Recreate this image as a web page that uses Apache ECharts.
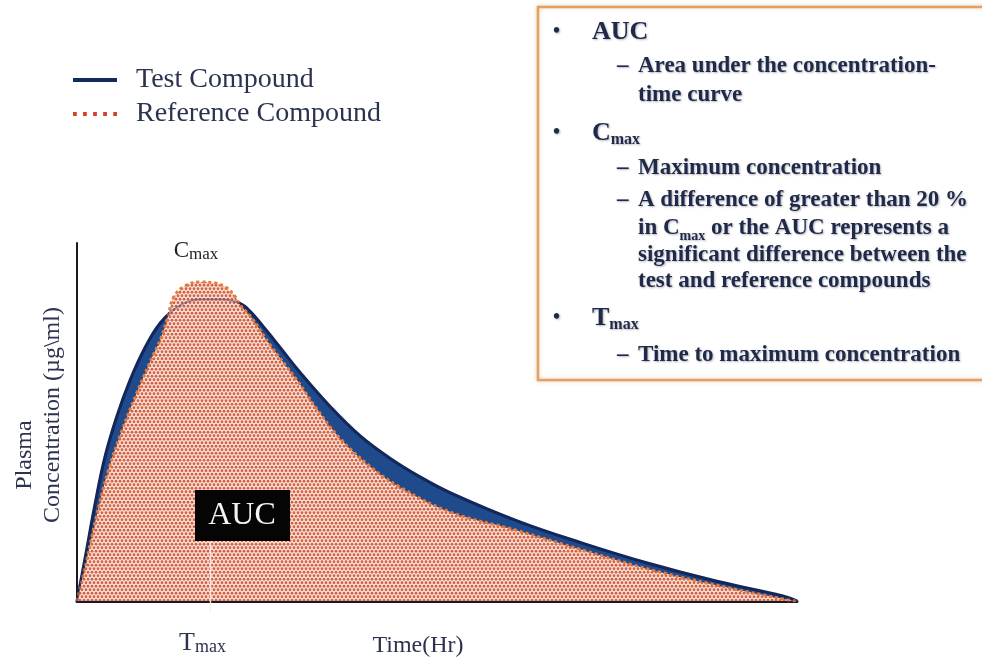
<!DOCTYPE html>
<html><head><meta charset="utf-8">
<script src="https://cdn.jsdelivr.net/npm/echarts@6/dist/echarts.min.js"></script>
<style>html,body{margin:0;padding:0;background:#fff}#c{width:982px;height:663px}</style>
</head><body><div id="c"></div>
<script>
// ---- data (hours, concentration in % of axis) ----
const seriesNames = ['Test Compound', 'Reference Compound'];
const testHours = [0, 0.27, 0.6, 0.93, 1.33, 1.77, 2.27, 2.77, 3.37, 4.1, 4.83, 5.43, 5.77, 6.33, 6.77, 7.43, 8.43, 9.43, 10.43, 11.43, 12.43, 14.67, 16.87, 19.1, 21.33, 23.53, 24];
const testConc  = [0, 12.0, 27.0, 40.2, 51.6, 61.7, 70.8, 77.6, 82.2, 84.2, 84.2, 83.1, 80.9, 75.4, 70.8, 63.9, 54.4, 46.2, 39.9, 34.7, 30.3, 22.4, 16.1, 10.4, 5.5, 1.4, 0];
const refHours  = [0, 0.3, 0.63, 1.03, 1.47, 1.97, 2.43, 2.8, 3.03, 3.23, 3.6, 4.1, 4.6, 5.0, 5.27, 5.43, 5.83, 6.43, 7.33, 8.0, 8.77, 9.77, 10.77, 12.43, 14.67, 16.87, 19.1, 21.33, 23.53, 24];
const refConc   = [0, 10.7, 23.0, 36.1, 47.0, 57.7, 66.7, 73.5, 79.5, 85.0, 88.0, 89.1, 88.8, 87.4, 85.0, 82.8, 79.0, 71.6, 61.7, 53.6, 45.4, 37.6, 31.8, 24.9, 19.7, 14.2, 8.8, 4.4, 0.6, 0];
const cmaxPoint = [4.1, 89.1];
const tmaxHour = 4.45;
const aucLabelPos = [5.5, 24];
const xRange = [0, 24];
const yRange = [0, 100];

const SERIF = '"Liberation Serif", "Times New Roman", serif';
const BOXTXT = '#1f2a4a';

function zip(a, b) { return a.map((v, i) => [v, b[i]]); }

function makePattern() {
  const c = document.createElement('canvas');
  c.width = 8; c.height = 7;
  const g = c.getContext('2d');
  g.fillStyle = '#fce6d8'; g.fillRect(0, 0, 8, 7);
  g.fillStyle = '#d0604a';
  [[2, 1.75], [6, 1.75], [0, 5.25], [4, 5.25], [8, 5.25]].forEach(([x, y]) => {
    g.beginPath(); g.arc(x, y, 1.4, 0, Math.PI * 2); g.fill();
  });
  return c;
}

const chart = echarts.init(document.getElementById('c'), null, {renderer: 'canvas'});
const option = {
  backgroundColor: '#ffffff',
  animation: false,
  grid: {left: 77, right: 185, top: 243, bottom: 54},
  legend: {
    orient: 'vertical', left: 68, top: 60, itemWidth: 44, itemHeight: 4, itemGap: 4,
    textStyle: {fontFamily: SERIF, fontSize: 28, color: '#2b3350', lineHeight: 30, padding: [0, 0, 0, 14]},
    data: [
      {name: seriesNames[0], icon: 'rect'},
      {name: seriesNames[1], icon: 'path://M0,0h3v3h-3zM8,0h3v3h-3zM16,0h3v3h-3zM24,0h3v3h-3zM32,0h3v3h-3z'}
    ]
  },
  xAxis: {
    type: 'value', min: xRange[0], max: xRange[1],
    axisLine: {lineStyle: {color: '#1a1a22', width: 3}},
    axisTick: {show: false}, axisLabel: {show: false}, splitLine: {show: false},
    name: 'Time(Hr)', nameLocation: 'middle', nameGap: 33,
    nameTextStyle: {fontFamily: SERIF, fontSize: 24, color: '#2b3350', padding: [0, 38, 0, 0]}
  },
  yAxis: {
    type: 'value', min: yRange[0], max: yRange[1],
    axisLine: {show: true, lineStyle: {color: '#1a1a22', width: 2}},
    axisTick: {show: false}, axisLabel: {show: false}, splitLine: {show: false}
  },
  series: [
    {
      name: seriesNames[0], type: 'line', data: zip(testHours, testConc),
      smooth: 0.4, symbol: 'none', z: 2,
      color: '#14295e',
      lineStyle: {color: '#0f2456', width: 3},
      areaStyle: {color: '#1f4a8c', opacity: 1}
    },
    {
      name: seriesNames[1], type: 'line', data: zip(refHours, refConc),
      smooth: 0.4, symbol: 'none', z: 3,
      color: '#d8402a',
      lineStyle: {color: '#e77a3a', width: 3, type: 'dotted'},
      areaStyle: {color: {image: makePattern(), repeat: 'repeat'}, opacity: 1}
    },
    {
      name: 'test-overlay', type: 'line', data: zip(testHours, testConc),
      smooth: 0.4, symbol: 'none', z: 4, silent: true,
      lineStyle: {color: '#1b2f66', width: 2, opacity: 0.4}
    }
  ]
};
chart.setOption(option);

const P = (x, y) => chart.convertToPixel({gridIndex: 0}, [x, y]);
const peak = P(cmaxPoint[0], cmaxPoint[1]);
const tmax = P(tmaxHour, 0);
const auc = P(aucLabelPos[0], aucLabelPos[1]);

function boxLine(x, y, text, size, extraRich) {
  return {
    type: 'text', x: x, y: y, z: 20,
    style: {
      text: text, fill: BOXTXT, fontFamily: SERIF, fontWeight: 'bold', fontSize: size,
      verticalAlign: 'middle', align: 'left',
      textShadowColor: 'rgba(40,40,60,0.35)', textShadowBlur: 2, textShadowOffsetX: 1, textShadowOffsetY: 1,
      rich: Object.assign({
        n: {fontFamily: SERIF, fontWeight: 'bold', fontSize: size, fill: BOXTXT, lineHeight: 30},
        s: {fontFamily: SERIF, fontWeight: 'bold', fontSize: Math.round(size * 0.62), fill: BOXTXT, lineHeight: 10, verticalAlign: 'bottom'}
      }, extraRich || {})
    }
  };
}
const bulletX = 553, topX = 592, dashX = 617, subX = 638;
const graphics = [
  // info box
  {type: 'rect', z: 10, shape: {x: 538, y: 7, width: 470, height: 373},
   style: {fill: '#ffffff', stroke: '#e2a063', lineWidth: 2.5, shadowColor: 'rgba(200,140,80,0.35)', shadowBlur: 4}},
  boxLine(bulletX, 32, '•', 20), boxLine(topX, 32, 'AUC', 26),
  boxLine(dashX, 66, '–', 23), boxLine(subX, 66, 'Area under the concentration-', 23),
  boxLine(subX, 95, 'time curve', 23),
  boxLine(bulletX, 133, '•', 20), boxLine(topX, 133, '{n|C}{s|max}', 26),
  boxLine(dashX, 168, '–', 23), boxLine(subX, 168, 'Maximum concentration', 23),
  boxLine(dashX, 200, '–', 23), boxLine(subX, 200, 'A difference of greater than 20 %', 23),
  boxLine(subX, 228, '{n|in C}{s|max}{n| or the AUC represents a}', 23),
  boxLine(subX, 255, 'significant difference between the', 23),
  boxLine(subX, 281, 'test and reference compounds', 23),
  boxLine(bulletX, 318, '•', 20), boxLine(topX, 318, '{n|T}{s|max}', 26),
  boxLine(dashX, 355, '–', 23), boxLine(subX, 355, 'Time to maximum concentration', 23),
  // y-axis title
  {type: 'text', x: 25, y: 455, rotation: Math.PI / 2, z: 5,
   style: {text: 'Plasma', fontFamily: SERIF, fontSize: 24, fill: '#2b3350', align: 'center', verticalAlign: 'middle'}},
  {type: 'text', x: 53, y: 415, rotation: Math.PI / 2, z: 5,
   style: {text: 'Concentration (µg\\ml)', fontFamily: SERIF, fontSize: 24, fill: '#2b3350', align: 'center', verticalAlign: 'middle'}},
  // Cmax label
  {type: 'text', x: peak[0] - 4, y: peak[1] - 31, z: 5,
   style: {text: '{c|C}{s|max}', align: 'center', verticalAlign: 'middle',
     rich: {c: {fontFamily: SERIF, fontSize: 23, fill: '#222', lineHeight: 24},
            s: {fontFamily: SERIF, fontSize: 17, fill: '#222', lineHeight: 10, verticalAlign: 'bottom'}}}},
  // Tmax marker line + label
  {type: 'line', z: 6, shape: {x1: tmax[0], y1: auc[1] + 26, x2: tmax[0], y2: tmax[1] + 12},
   style: {stroke: 'rgba(245,240,235,0.9)', lineWidth: 1.5}},
  {type: 'text', x: tmax[0] - 8, y: 643, z: 5,
   style: {text: '{t|T}{s|max}', align: 'center', verticalAlign: 'middle',
     rich: {t: {fontFamily: SERIF, fontSize: 26, fill: '#2b3350', lineHeight: 26},
            s: {fontFamily: SERIF, fontSize: 18, fill: '#2b3350', lineHeight: 10, verticalAlign: 'bottom'}}}},
  // AUC black label
  {type: 'rect', z: 7, shape: {x: auc[0] - 47, y: auc[1] - 25, width: 95, height: 51}, style: {fill: '#050505'}},
  {type: 'text', x: auc[0], y: auc[1] + 1, z: 8,
   style: {text: 'AUC', fontFamily: SERIF, fontSize: 32, fill: '#f4f4f4', align: 'center', verticalAlign: 'middle'}}
];
chart.setOption({graphic: graphics});
</script></body></html>
